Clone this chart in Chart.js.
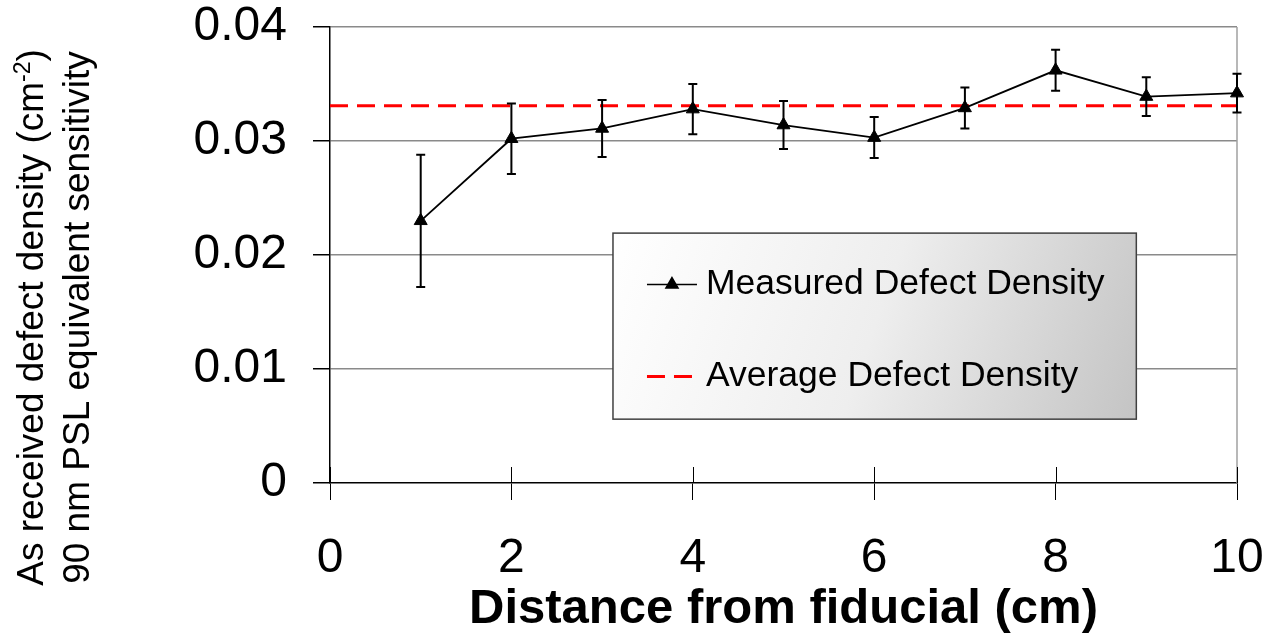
<!DOCTYPE html>
<html>
<head>
<meta charset="utf-8">
<script src="https://cdn.jsdelivr.net/npm/chart.js@4.4.1/dist/chart.umd.min.js"></script>
<style>
  body { margin: 0; background: #fff; }
  #wrap { width: 1268px; height: 639px; }
</style>
</head>
<body>
<div id="wrap"><canvas id="chart" width="1268" height="639"></canvas></div>
<script>
// data
const distances = [1, 2, 3, 4, 5, 6, 7, 8, 9, 10];
const measuredDensity = [0.0230, 0.0302, 0.0311, 0.0328, 0.0314, 0.0303, 0.0329, 0.0362, 0.0339, 0.0342];
const densityError = [0.0058, 0.0031, 0.0025, 0.0022, 0.0021, 0.0018, 0.0018, 0.0018, 0.0017, 0.0017];
const averageDistances = [0, 10];
const averageDensity = [0.0331, 0.0331];

const xTickValues = [0, 2, 4, 6, 8, 10];
const yTickValues = [0, 0.01, 0.02, 0.03, 0.04];

const seriesLabels = ["Measured Defect Density", "Average Defect Density"];
const xTitle = "Distance from fiducial (cm)";
const yTitleLine1 = "As received defect density (cm";
const yTitleSup = "-2";
const yTitleEnd = ")";
const yTitleLine2 = "90 nm PSL equivalent sensitivity";

const FONT = "'Liberation Sans', Arial, sans-serif";
Chart.defaults.font.family = FONT;
Chart.defaults.color = "#000";

// error bars on the measured series
const errorBars = {
  id: "errorBars",
  afterDatasetsDraw(chart) {
    const ctx = chart.ctx;
    const ys = chart.scales.y;
    const meta = chart.getDatasetMeta(0);
    ctx.save();
    ctx.strokeStyle = "#000";
    ctx.lineWidth = 2;
    meta.data.forEach((pt, i) => {
      const top = ys.getPixelForValue(measuredDensity[i] + densityError[i]);
      const bot = ys.getPixelForValue(measuredDensity[i] - densityError[i]);
      ctx.beginPath();
      ctx.moveTo(pt.x, top); ctx.lineTo(pt.x, bot);
      ctx.moveTo(pt.x - 4.5, top); ctx.lineTo(pt.x + 4.5, top);
      ctx.moveTo(pt.x - 4.5, bot); ctx.lineTo(pt.x + 4.5, bot);
      ctx.stroke();
    });
    ctx.restore();
  }
};

// right frame line + x ticks that cross the axis
const axisExtras = {
  id: "axisExtras",
  beforeDatasetsDraw(chart) {
    const ctx = chart.ctx;
    const a = chart.chartArea;
    const xs = chart.scales.x;
    ctx.save();
    ctx.strokeStyle = "#a0a0a0";
    ctx.lineWidth = 1.5;
    ctx.beginPath();
    ctx.moveTo(a.right, a.top); ctx.lineTo(a.right, a.bottom);
    ctx.stroke();
    ctx.strokeStyle = "#000";
    ctx.lineWidth = 1;
    xTickValues.forEach(v => {
      const x = Math.round(xs.getPixelForValue(v)) + 0.5;
      ctx.beginPath();
      ctx.moveTo(x, a.bottom - 16); ctx.lineTo(x, a.bottom);
      ctx.stroke();
    });
    ctx.restore();
  }
};

// rotated two-line y title with superscript
const yTitle = {
  id: "yTitle",
  afterDraw(chart) {
    const ctx = chart.ctx;
    const size = 37;
    const supSize = 23;
    ctx.save();
    ctx.translate(0, chart.height / 2 - 2);
    ctx.rotate(-Math.PI / 2);
    ctx.fillStyle = "#000";
    ctx.textBaseline = "alphabetic";
    ctx.textAlign = "left";
    ctx.font = size + "px " + FONT;
    const w1 = ctx.measureText(yTitleLine1).width;
    const w3 = ctx.measureText(yTitleEnd).width;
    ctx.font = supSize + "px " + FONT;
    const w2 = ctx.measureText(yTitleSup).width;
    let x = -(w1 + w2 + w3) / 2;
    ctx.font = size + "px " + FONT;
    ctx.fillText(yTitleLine1, x, 43);
    x += w1;
    ctx.font = supSize + "px " + FONT;
    ctx.fillText(yTitleSup, x, 43 - 13);
    x += w2;
    ctx.font = size + "px " + FONT;
    ctx.fillText(yTitleEnd, x, 43);
    ctx.textAlign = "center";
    ctx.fillText(yTitleLine2, 0, 89);
    ctx.restore();
  }
};

// legend box inside the plot
const boxLegend = {
  id: "boxLegend",
  afterDraw(chart) {
    const ctx = chart.ctx;
    const a = chart.chartArea;
    const w = a.right - a.left, h = a.bottom - a.top;
    const L = a.left + 0.312 * w, R = a.left + 0.889 * w;
    const T = a.top + 0.452 * h, B = a.top + 0.860 * h;
    ctx.save();
    const g = ctx.createLinearGradient(L, T, R, B);
    g.addColorStop(0, "#ffffff");
    g.addColorStop(0.5, "#eeeeee");
    g.addColorStop(1, "#c4c4c4");
    ctx.fillStyle = g;
    ctx.fillRect(L, T, R - L, B - T);
    ctx.strokeStyle = "#404040";
    ctx.lineWidth = 1.5;
    ctx.strokeRect(L, T, R - L, B - T);

    const rows = [T + 0.274 * (B - T), T + 0.769 * (B - T)];
    const ds = chart.data.datasets;
    ds.forEach((d, i) => {
      const y = Math.round(rows[i]) + 0.5;
      ctx.strokeStyle = d.borderColor;
      ctx.lineWidth = i === 0 ? 1.5 : 3;
      ctx.setLineDash(d.borderDash || []);
      ctx.beginPath();
      ctx.moveTo(L + 34, y); ctx.lineTo(L + (i === 0 ? 84 : 80), y);
      ctx.stroke();
      ctx.setLineDash([]);
      if (d.pointRadius > 0) {
        Chart.helpers.drawPoint(ctx, {
          pointStyle: d.pointStyle, radius: 7, borderWidth: 1
        }, L + 59, y);
        ctx.fillStyle = "#000";
        ctx.fill();
      }
      ctx.fillStyle = "#000";
      ctx.font = "35.5px " + FONT;
      ctx.textBaseline = "middle";
      ctx.textAlign = "left";
      ctx.fillText(d.label, L + 93, y);
    });
    ctx.restore();
  }
};

const ctx = document.getElementById("chart").getContext("2d");
const chart = new Chart(ctx, {
  type: "line",
  data: {
    datasets: [
      {
        label: seriesLabels[0],
        data: distances.map((x, i) => ({ x: x, y: measuredDensity[i] })),
        borderColor: "#000",
        borderWidth: 1.8,
        pointStyle: "triangle",
        pointRadius: 7.5,
        pointBackgroundColor: "#000",
        pointBorderColor: "#000",
        pointBorderWidth: 1,
        tension: 0,
        clip: false,
        order: 1
      },
      {
        label: seriesLabels[1],
        data: averageDistances.map((x, i) => ({ x: x, y: averageDensity[i] })),
        borderColor: "#ff0000",
        borderWidth: 3,
        borderDash: [18, 9],
        pointRadius: 0,
        tension: 0,
        order: 2
      }
    ]
  },
  options: {
    responsive: false,
    animation: false,
    layout: { padding: { top: 27, right: 31, left: 0, bottom: 0 } },
    plugins: {
      legend: { display: false },
      tooltip: { enabled: false }
    },
    scales: {
      x: {
        type: "linear",
        min: 0, max: 10,
        afterBuildTicks: s => { s.ticks = xTickValues.map(v => ({ value: v })); },
        afterFit: s => { s.height = 156; s.paddingLeft = 0; s.paddingRight = 0; },
        ticks: {
          font: { size: 48, lineHeight: 1 },
          padding: 35,
          maxRotation: 0,
          callback: v => String(v)
        },
        grid: { drawOnChartArea: false, tickLength: 17, color: "#000", tickColor: "#000", lineWidth: 1 },
        border: { color: "#000", width: 1.5 },
        title: {
          display: true,
          text: xTitle,
          font: { size: 49, weight: "bold", lineHeight: 1.2 },
          padding: { top: 0, bottom: 0 }
        }
      },
      y: {
        type: "linear",
        min: 0, max: 0.04,
        afterBuildTicks: s => { s.ticks = yTickValues.map(v => ({ value: v })); },
        afterFit: s => { s.width = 330; s.paddingTop = 0; s.paddingBottom = 0; },
        ticks: {
          font: { size: 48, lineHeight: 1 },
          padding: 26,
          callback: v => String(v)
        },
        grid: {
          color: c => (c.tick && c.tick.value === 0) ? "rgba(0,0,0,0)" : "#8a8a8a",
          lineWidth: 1.5,
          tickLength: 17,
          tickColor: "#000"
        },
        border: { color: "#000", width: 1.5 }
      }
    }
  },
  plugins: [axisExtras, errorBars, yTitle, boxLegend]
});
</script>
</body>
</html>
